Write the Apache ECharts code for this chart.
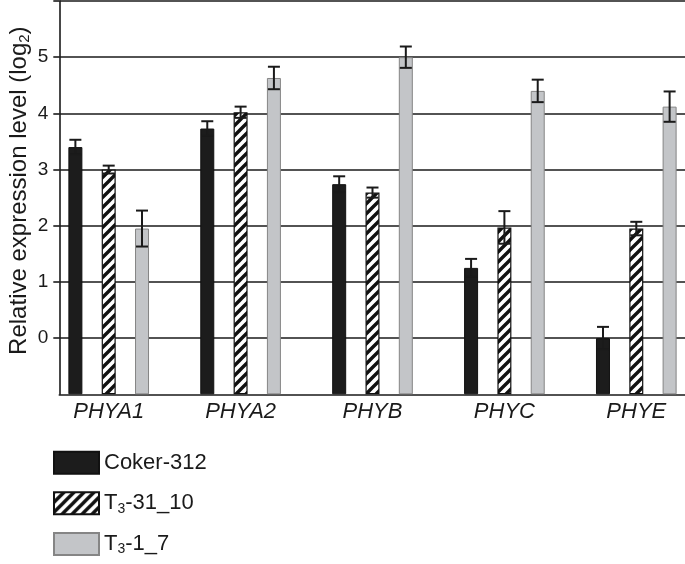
<!DOCTYPE html>
<html>
<head>
<meta charset="utf-8">
<script src="https://cdn.jsdelivr.net/npm/echarts@6/dist/echarts.min.js"></script>
<style>
html,body{margin:0;padding:0;background:#fff;}
#c{width:685px;height:564px;}
</style>
</head>
<body>
<div id="c"></div>
<script>
// ---- data ----
const categories = ['PHYA1', 'PHYA2', 'PHYB', 'PHYC', 'PHYE'];
const seriesNames = ['Coker-312', 'T3-31_10', 'T3-1_7'];
const cokerValues = [3.40, 3.73, 2.74, 1.25, 0.00];
const cokerErr    = [0.13, 0.13, 0.14, 0.16, 0.20];
const t31Values   = [3.00, 4.02, 2.59, 1.97, 1.95];
const t31Err      = [0.07, 0.10, 0.09, 0.29, 0.12];
const t17Values   = [1.95, 4.63, 5.00, 4.40, 4.12];
const t17Err      = [0.32, 0.20, 0.19, 0.20, 0.27];
const yTickLabels = [0, 1, 2, 3, 4, 5];

// ---- styles ----
const FONT = '"Liberation Sans", Arial, Helvetica, sans-serif';
const BAR_W = 14;
const GAP_RATIO = 1.38;
const STEP = BAR_W * (1 + GAP_RATIO);

function hatchCanvas() {
  const s = 10;
  const cv = document.createElement('canvas');
  cv.width = s; cv.height = s;
  const ctx = cv.getContext('2d');
  ctx.fillStyle = '#ffffff';
  ctx.fillRect(0, 0, s, s);
  ctx.strokeStyle = '#111111';
  ctx.lineWidth = 3.4;
  ctx.lineCap = 'square';
  ctx.beginPath();
  ctx.moveTo(-1, s + 1); ctx.lineTo(s + 1, -1);
  ctx.moveTo(-1, 1); ctx.lineTo(1, -1);
  ctx.moveTo(s - 1, s + 1); ctx.lineTo(s + 1, s - 1);
  ctx.stroke();
  return cv;
}

function errRender(offset) {
  return function (params, api) {
    const cat = api.value(0), v = api.value(1), e = api.value(2);
    const base = api.coord([cat, v]);
    const x = base[0] + offset;
    const yHi = api.coord([cat, v + e])[1];
    const yLo = api.coord([cat, v - e])[1];
    const hw = 6;
    const st = { stroke: '#1a1a1a', lineWidth: 2 };
    return {
      type: 'group',
      children: [
        { type: 'line', shape: { x1: x, y1: yHi, x2: x, y2: yLo }, style: st },
        { type: 'line', shape: { x1: x - hw, y1: yHi, x2: x + hw, y2: yHi }, style: st },
        { type: 'line', shape: { x1: x - hw, y1: yLo, x2: x + hw, y2: yLo }, style: st }
      ]
    };
  };
}

function errData(vals, errs) {
  return vals.map((v, i) => [i, v, errs[i]]);
}

function legendFmt(name) {
  if (name.indexOf('T3') === 0) {
    return '{n|T}{s|3}{n|' + name.slice(2) + '}';
  }
  return '{n|' + name + '}';
}

const chart = echarts.init(document.getElementById('c'), null, { renderer: 'canvas' });

const TOP = 1, BOTTOM = 169.7;

const option = {
  backgroundColor: '#ffffff',
  animation: false,
  textStyle: { fontFamily: FONT },
  legend: {
    data: seriesNames,
    orient: 'vertical',
    left: 53,
    top: 450.8,
    padding: 0,
    icon: 'rect',
    itemWidth: 45,
    itemHeight: 22,
    itemGap: 16.4,
    formatter: legendFmt,
    textStyle: {
      fontFamily: FONT,
      color: '#1a1a1a',
      rich: {
        n: { fontSize: 22, lineHeight: 25, fontFamily: FONT, color: '#1a1a1a' },
        s: { fontSize: 14, lineHeight: 8, verticalAlign: 'bottom', fontFamily: FONT, color: '#1a1a1a' }
      }
    }
  },
  grid: [
    { left: 59.3, right: 0, top: TOP, bottom: BOTTOM, containLabel: false, outerBoundsMode: 'none' },
    { left: 42.75, right: -17.25, top: TOP, bottom: BOTTOM, containLabel: false, outerBoundsMode: 'none' }
  ],
  xAxis: [
    {
      gridIndex: 0, type: 'value', min: 0, max: 1,
      axisLine: { show: true, onZero: false, lineStyle: { color: '#1a1a1a', width: 1.6 } },
      axisTick: { show: false }, axisLabel: { show: false }, splitLine: { show: false }
    },
    {
      gridIndex: 1, type: 'category', data: categories,
      axisLine: { show: false }, axisTick: { show: false },
      axisLabel: { fontSize: 22, fontStyle: 'italic', color: '#1a1a1a', fontFamily: FONT, margin: 7 }
    }
  ],
  yAxis: [
    {
      gridIndex: 0, type: 'value', min: -1, max: 6, interval: 1,
      name: '{n|Relative expression level (log}{s|2}{n|)}',
      nameLocation: 'middle', nameRotate: 90, nameGap: 27,
      nameMoveOverlap: false,
      nameTextStyle: {
        padding: [0, 0, 0, 14],
        rich: {
          n: { fontSize: 24, lineHeight: 26, fontFamily: FONT, color: '#1a1a1a' },
          s: { fontSize: 15, lineHeight: 8, verticalAlign: 'bottom', fontFamily: FONT, color: '#1a1a1a' }
        }
      },
      axisLine: { show: true, lineStyle: { color: '#1a1a1a', width: 1.6 } },
      axisTick: { show: true, length: 6, customValues: [0, 1, 2, 3, 4, 5, 6], lineStyle: { color: '#1a1a1a', width: 1.6 } },
      axisLabel: {
        fontSize: 19, color: '#1a1a1a', fontFamily: FONT, margin: 11,
        customValues: yTickLabels,
        formatter: v => (yTickLabels.indexOf(v) >= 0 ? String(v) : '')
      },
      splitLine: { show: true, lineStyle: { color: '#1a1a1a', width: 1.6 } }
    },
    {
      gridIndex: 1, type: 'value', min: -1, max: 6, interval: 1, startValue: -1,
      show: false, splitLine: { show: false }
    }
  ],
  series: [
    {
      name: seriesNames[0], type: 'bar', xAxisIndex: 1, yAxisIndex: 1,
      data: cokerValues, barWidth: BAR_W, barGap: (GAP_RATIO * 100) + '%',
      itemStyle: { color: '#1c1c1c', borderColor: '#111', borderWidth: 1 }
    },
    {
      name: seriesNames[1], type: 'bar', xAxisIndex: 1, yAxisIndex: 1,
      data: t31Values, barWidth: BAR_W, barGap: (GAP_RATIO * 100) + '%',
      itemStyle: { color: { image: hatchCanvas(), repeat: 'repeat' }, borderColor: '#111', borderWidth: 1.2 }
    },
    {
      name: seriesNames[2], type: 'bar', xAxisIndex: 1, yAxisIndex: 1,
      data: t17Values, barWidth: BAR_W, barGap: (GAP_RATIO * 100) + '%',
      itemStyle: { color: '#c3c5c8', borderColor: '#858585', borderWidth: 1 }
    },
    {
      name: 'err0', type: 'custom', xAxisIndex: 1, yAxisIndex: 1, z: 5,
      renderItem: errRender(-STEP), data: errData(cokerValues, cokerErr),
      encode: { x: 0, y: 1 }, silent: true
    },
    {
      name: 'err1', type: 'custom', xAxisIndex: 1, yAxisIndex: 1, z: 5,
      renderItem: errRender(0), data: errData(t31Values, t31Err),
      encode: { x: 0, y: 1 }, silent: true
    },
    {
      name: 'err2', type: 'custom', xAxisIndex: 1, yAxisIndex: 1, z: 5,
      renderItem: errRender(STEP), data: errData(t17Values, t17Err),
      encode: { x: 0, y: 1 }, silent: true
    }
  ]
};
chart.setOption(option);
</script>
</body>
</html>
